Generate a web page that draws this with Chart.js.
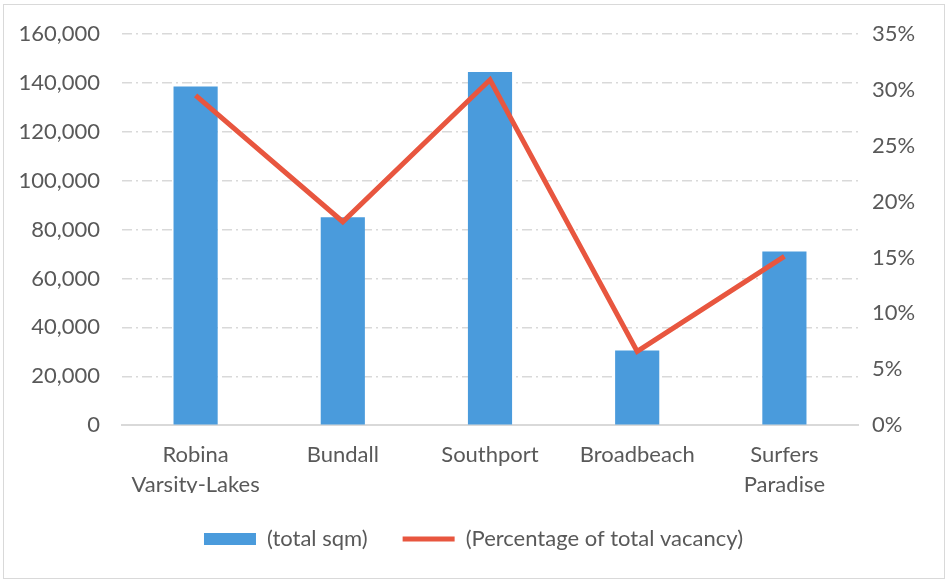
<!DOCTYPE html>
<html>
<head>
<meta charset="utf-8">
<script src="https://cdn.jsdelivr.net/npm/chart.js@4"></script>
<style>
  html, body { margin: 0; padding: 0; background: #fff; overflow: hidden; }
  .wrap { position: absolute; left: 4px; top: 5px; }
  .frame {
    position: absolute; left: 3px; top: 4px;
    width: 940px; height: 573px;
    border: 1px solid #d9d9d9;
    pointer-events: none;
  }
  canvas { display: block; }
</style>
</head>
<body>
<div class="wrap"><canvas id="myChart" width="939" height="555"></canvas></div>
<div class="frame"></div>
<script>
// Chart data
const areas = [['Robina', 'Varsity-Lakes'], 'Bundall', 'Southport', 'Broadbeach', ['Surfers', 'Paradise']];
const totalSqm = [138500, 85000, 144500, 30500, 71000];
const vacancyPct = [29.5, 18.2, 30.9, 6.6, 15.1];

const fontFamily = 'Lato, "Open Sans", sans-serif';
const textColor = '#595959';

document.addEventListener('DOMContentLoaded', function() {
    const ctx = document.getElementById('myChart').getContext('2d');

    new Chart(ctx, {
        type: 'bar',
        data: {
            labels: areas,
            datasets: [{
                type: 'line',
                label: '(Percentage of total vacancy)',
                data: vacancyPct,
                yAxisID: 'y2',
                borderColor: '#E8563F',
                backgroundColor: '#E8563F',
                borderWidth: 5,
                pointRadius: 0,
                pointStyle: 'line',
                tension: 0,
                order: 0
            }, {
                label: '(total sqm)',
                data: totalSqm,
                yAxisID: 'y',
                backgroundColor: '#4A9BDC',
                borderWidth: 0,
                pointStyle: 'rect',
                categoryPercentage: 1,
                barPercentage: 0.3,
                order: 1
            }]
        },
        options: {
            responsive: false,
            animation: false,
            layout: { padding: { top: 29, bottom: 0, left: 0, right: 0 } },
            plugins: {
                legend: {
                    position: 'bottom',
                    reverse: true,
                    labels: {
                        usePointStyle: true,
                        pointStyleWidth: 52,
                        boxHeight: 12,
                        padding: 35,
                        color: textColor,
                        font: { family: fontFamily, size: 22 }
                    }
                },
                tooltip: { enabled: false }
            },
            scales: {
                x: {
                    grid: { display: false },
                    border: { display: true, color: '#d9d9d9', width: 2 },
                    ticks: {
                        color: textColor,
                        padding: 7,
                        maxRotation: 0,
                        font: { family: fontFamily, size: 22, lineHeight: 1.36 }
                    },
                    // let the legend sit a little closer to the category labels
                    afterFit: function(scale) { scale.height -= 14; }
                },
                y: {
                    position: 'left',
                    min: 0,
                    max: 160000,
                    ticks: {
                        stepSize: 20000,
                        padding: 22,
                        color: textColor,
                        font: { family: fontFamily, size: 22 },
                        callback: function(v) { return v.toLocaleString('en-US'); }
                    },
                    grid: { color: '#d9d9d9', lineWidth: 1.5, drawTicks: false },
                    border: { display: false, dash: [10, 4, 2, 4] },
                    afterFit: function(scale) { scale.width = 118; scale.paddingTop = 0; }
                },
                y2: {
                    position: 'right',
                    min: 0,
                    max: 35,
                    ticks: {
                        stepSize: 5,
                        padding: 14,
                        color: textColor,
                        font: { family: fontFamily, size: 22 },
                        callback: function(v) { return v + '%'; }
                    },
                    grid: { display: false, drawTicks: false },
                    border: { display: false },
                    afterFit: function(scale) { scale.width = 85; scale.paddingTop = 0; }
                }
            }
        }
    });
});
</script>
</body>
</html>
